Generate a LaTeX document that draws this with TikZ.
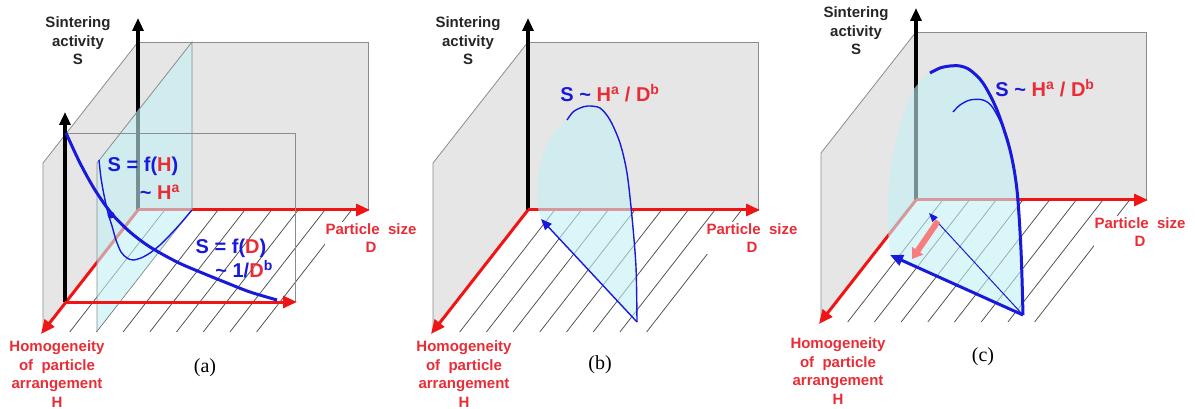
\documentclass[tikz,border=0pt]{standalone}
\usepackage{fontspec}
\setmainfont{Liberation Serif}
\setsansfont{Liberation Sans}
\usetikzlibrary{arrows.meta}
\definecolor{axisred}{RGB}{240,20,20}
\definecolor{labelred}{RGB}{232,45,55}
\definecolor{curveblue}{RGB}{25,25,220}
\definecolor{wallgray}{RGB}{230,230,230}
\definecolor{lenscyan}{RGB}{195,240,245}

\begin{document}
\begin{tikzpicture}[x=1pt,y=-1pt,
  wall/.style={fill=wallgray,draw=black!45,line width=0.8pt},
  edge/.style={black!45,line width=0.8pt},
  hatch/.style={black!70,line width=0.75pt},
  saxis/.style={line width=3.2pt,-{Triangle[length=13pt,width=11pt]}},
  daxis/.style={axisred,line width=3pt,-{Triangle[length=14pt,width=12pt]}},
  lens/.style={fill=lenscyan,fill opacity=0.6},
  thickcurve/.style={curveblue,line width=3pt},
  thincurve/.style={curveblue,line width=1.4pt},
  lbl/.style={font=\fontsize{15}{18.5}\selectfont\sffamily\bfseries,align=center},
  eq/.style={font=\fontsize{20}{22}\selectfont\sffamily\bfseries,text=curveblue,inner sep=1pt},
  panelcap/.style={font=\fontsize{20}{22}\selectfont\rmfamily}]
\useasboundingbox (0,0) rectangle (1195,409);

% three frames: walls, hatched floor, axes
\foreach \p/\ox/\oy in {a/138/210,b/528/210,c/916/200}{
 \begin{scope}[shift={(\ox,\oy)}]
 \coordinate (\p-o) at (0,0);
 \coordinate (\p-s) at (0,-192);
 \coordinate (\p-d) at (232,0);
 \coordinate (\p-h) at (-97,124);
 \draw[wall] (0,0) -- (0,-168) -- (-95,-47) -- (-95,121) -- cycle;
 \draw[wall] (0,0) rectangle (230,-168);
 \foreach \k in {1,...,8}{\draw[hatch] (\k*26.7,0) -- ++(-95,122);}
 \draw[saxis] (\p-o) -- (\p-s);
 \draw[daxis] (\p-o) -- (\p-d);
 \draw[daxis] (\p-o) -- (\p-h);
 \node[lbl,text=black!85] (\p-slab) at (-60,-169) {Sintering\\activity\\S};
 \end{scope}
}

% (a)
\fill[lens] (192,210) -- (192,42) -- (97,163) -- (97,331) -- cycle;
\draw[edge] (192,210) -- (192,42) -- (97,163) -- (97,331);
\coordinate (a-fo) at (65,302);
\draw[edge] (a-fo) -- (65,133) -- (295,133) -- (295,302);
\draw[saxis] (a-fo) -- (65,112);
\draw[daxis] (a-fo) -- (297,302);
\draw[thincurve] plot[smooth] coordinates {(99,160) (101,178) (104,195) (108,213) (112,226) (116,240) (121,252) (127,258) (133,260) (141,258) (150,253) (160,245) (170,235) (181,223) (192,210)};
\draw[thickcurve] plot[smooth] coordinates {(66,133) (80,163) (95,190) (112,214) (130,232) (150,247) (177,262) (200,272) (227,283) (250,292) (277,300)};
\fill[curveblue] (111,215) circle[radius=3.5];
\node[eq] (a-fh) at (143,166) {S = f(\textcolor{labelred}{H})};
\node[eq,anchor=east] (a-hpow) at (181,192) {\textasciitilde\ \textcolor{labelred}{H\textsuperscript{a}}};
\node[eq] (a-fd) at (231,248) {S = f(\textcolor{labelred}{D})};
\node[eq,anchor=east] (a-dpow) at (274,269) {\textasciitilde\ 1/\textcolor{labelred}{D}\textsuperscript{b}};
\node[lbl,text=labelred,fill=white,inner sep=1pt] (a-dlab) at (371,238) {Particle~~size\\D};
\node[lbl,text=labelred] (a-hlab) at (57,374) {Homogeneity\\of~ particle\\arrangement\\H};
\node[panelcap] (a-cap) at (205,368) {(a)};

% (b)
\coordinate (b-v) at (637,322);
\coordinate (b-t) at (541,219);
\fill[lens] plot[smooth] coordinates {(567,120) (573,112) (580,108) (588,106) (600,108) (610,120) (620,143) (627,173) (632,217) (636,267) (637,322)} -- (b-t) -- plot[smooth] coordinates {(537,205) (538,180) (543,155) (555,132) (567,120)} -- cycle;
\draw[thincurve] plot[smooth] coordinates {(567,120) (573,112) (580,108) (588,106) (600,108) (610,120) (620,143) (627,173) (632,217) (636,267) (637,322)};
\draw[thincurve,-{Triangle[length=11pt,width=9pt]}] (b-v) -- (b-t);
\node[eq] (b-law) at (610,93) {S \textasciitilde\ \textcolor{labelred}{H\textsuperscript{a} / D\textsuperscript{b}}};
\node[lbl,text=labelred,fill=white,inner sep=1pt] (b-dlab) at (752,238) {Particle~~size\\D};
\node[lbl,text=labelred] (b-hlab) at (464,374) {Homogeneity\\of~ particle\\arrangement\\H};
\node[panelcap] (b-cap) at (600,365) {(b)};

% (c)
\coordinate (c-v) at (1023,315);
\coordinate (c-t) at (890,255);
\coordinate (c-u) at (929,213);
\fill[lens] plot[smooth] coordinates {(930,73) (940,68) (950,66) (960,66) (970,70) (983,83) (997,110) (1010,150) (1017,190) (1021,250) (1023,315)} -- (c-t) -- plot[smooth] coordinates {(888,230) (889,183) (898,133) (912,92) (930,73)} -- cycle;
\draw[thincurve] plot[smooth] coordinates {(953,112) (960,105) (970,100) (983,100) (993,108) (1007,137) (1015,175) (1019,220) (1022,270) (1023,315)};
\draw[thickcurve] plot[smooth] coordinates {(930,73) (940,68) (950,66) (960,66) (970,70) (983,83) (997,110) (1010,150) (1017,190) (1021,250) (1023,315)};
\draw[thickcurve,-{Triangle[length=13pt,width=11pt]}] (c-v) -- (c-t);
\draw[curveblue,line width=1pt,-{Triangle[length=9pt,width=7pt]}] (c-v) -- (c-u);
\draw[axisred!55,line width=6pt,-{Triangle[length=10pt,width=13pt]}] (938,221) -- (912,259);
\node[eq] (c-law) at (1045,88) {S \textasciitilde\ \textcolor{labelred}{H\textsuperscript{a} / D\textsuperscript{b}}};
\node[lbl,text=labelred,fill=white,inner sep=1pt] (c-dlab) at (1140,232) {Particle~~size\\D};
\node[lbl,text=labelred] (c-hlab) at (838,371) {Homogeneity\\of~ particle\\arrangement\\H};
\node[panelcap] (c-cap) at (983,357) {(c)};
\end{tikzpicture}
\end{document}
